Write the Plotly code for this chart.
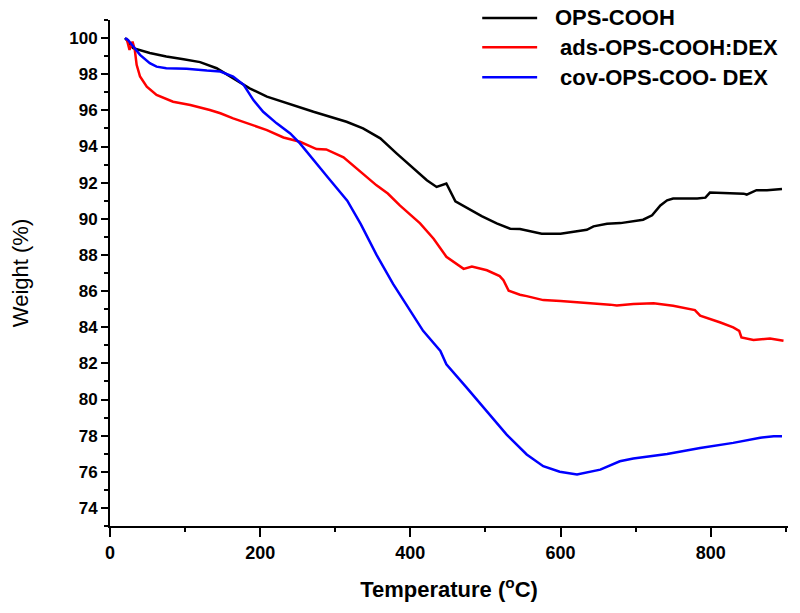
import plotly.graph_objects as go

# TGA curves, temperature (C) vs weight (%)
names = ["OPS-COOH", "ads-OPS-COOH:DEX", "cov-OPS-COO- DEX"]
colors = ["#000000", "#ff0000", "#0000ff"]

t_ops = [20, 31, 53, 75, 98, 120, 142, 164, 186, 209, 231, 250, 271, 293, 315, 337, 360, 382,
         404, 422, 435, 448, 460, 477, 495, 515, 533, 546, 575, 600, 617, 635, 644, 662, 680,
         697, 710, 722, 733, 742, 750, 782, 793, 799, 817, 844, 848, 861, 875, 895]
w_ops = [100, 99.44, 99.17, 98.98, 98.83, 98.67, 98.33, 97.78, 97.22, 96.76, 96.45, 96.18,
         95.92, 95.65, 95.37, 95.0, 94.45, 93.61, 92.78, 92.13, 91.76, 91.95, 90.97, 90.58,
         90.15, 89.75, 89.45, 89.43, 89.17, 89.17, 89.26, 89.39, 89.58, 89.73, 89.76, 89.86,
         89.95, 90.19, 90.74, 91.02, 91.12, 91.12, 91.17, 91.45, 91.43, 91.39, 91.34, 91.58,
         91.58, 91.65]

t_ads = [22, 26, 30, 33, 35.5, 40, 49, 62, 84, 107, 133, 147, 164, 191, 209, 231, 253, 275,
         288, 311, 333, 355, 370, 386, 413, 431, 448, 460, 471, 482, 502, 519, 524, 531, 546,
         555, 577, 600, 644, 666, 675, 697, 724, 750, 779, 786, 813, 830, 838, 841, 857, 879, 897]
w_ads = [100, 99.35, 99.8, 99.35, 98.52, 97.87, 97.31, 96.85, 96.48, 96.3, 96.02, 95.84,
         95.56, 95.19, 94.91, 94.5, 94.26, 93.86, 93.84, 93.4, 92.6, 91.85, 91.4, 90.74, 89.75,
         88.9, 87.9, 87.55, 87.23, 87.36, 87.15, 86.83, 86.6, 86.02, 85.8, 85.72, 85.5, 85.45,
         85.34, 85.25, 85.2, 85.29, 85.32, 85.19, 84.95, 84.64, 84.26, 83.99, 83.8, 83.43,
         83.29, 83.38, 83.25]

t_cov = [20, 24, 31, 40, 53, 62, 75, 102, 129, 147, 164, 178, 191, 204, 222, 240, 253, 266,
         290, 316, 334, 355, 377, 400, 417, 440, 448, 475, 502, 528, 555, 577, 599, 622, 653,
         679, 697, 742, 786, 830, 866, 884, 895]
w_cov = [100, 99.9, 99.53, 99.07, 98.61, 98.42, 98.33, 98.3, 98.2, 98.15, 97.87, 97.41,
         96.57, 95.92, 95.28, 94.72, 94.17, 93.5, 92.3, 91.0, 89.7, 88.0, 86.4, 84.9, 83.8,
         82.69, 81.95, 80.66, 79.36, 78.07, 76.96, 76.31, 76.0, 75.85, 76.12, 76.58, 76.73,
         76.99, 77.32, 77.6, 77.88, 77.97, 77.97]

y_ticks = list(range(74, 101, 2))
x_ticks = [0, 200, 400, 600, 800]

series = [(t_ops, w_ops), (t_ads, w_ads), (t_cov, w_cov)]

FONT = "Liberation Sans, Arial, sans-serif"

fig = go.Figure()
for (t, w), name, col in zip(series, names, colors):
    fig.add_trace(go.Scatter(x=t, y=w, mode="lines", name=name,
                             line=dict(color=col, width=2.5), showlegend=False))

# hand-made legend (longer line samples than plotly's own)
leg_y = [1.004, 0.946, 0.887]
leg_tx = [0.655, 0.662, 0.662]
for i, (name, col) in enumerate(zip(names, colors)):
    fig.add_shape(type="line", xref="paper", yref="paper", x0=0.549, x1=0.630,
                  y0=leg_y[i], y1=leg_y[i], line=dict(color=col, width=2.5))
    fig.add_annotation(xref="paper", yref="paper", x=leg_tx[i], y=leg_y[i] + 0.001,
                       text="<b>" + name + "</b>", showarrow=False, xanchor="left",
                       yanchor="middle", height=18, valign="middle", borderpad=0,
                       font=dict(family=FONT, size=22, color="black"))

axis_common = dict(showline=True, linecolor="black", linewidth=2, mirror=False,
                   showgrid=False, zeroline=False, ticks="outside", tickwidth=2,
                   tickcolor="black", automargin=False)

fig.update_xaxes(range=[0, 903], tickvals=x_ticks, ticklen=9,
                 tickfont=dict(family=FONT, size=18, color="black", weight="bold"),
                 minor=dict(dtick=100, tick0=0, ticks="outside", ticklen=4, tickwidth=2,
                            tickcolor="black"),
                 title=dict(text="<b>Temperature (<sup>o</sup>C)</b>", standoff=20,
                            font=dict(family=FONT, size=22, color="black")),
                 **axis_common)
fig.update_yaxes(range=[73, 101], tickvals=y_ticks, ticklen=7,
                 tickfont=dict(family=FONT, size=17, color="black", weight="bold"),
                 minor=dict(dtick=1, tick0=0, ticks="outside", ticklen=4, tickwidth=2,
                            tickcolor="black"),
                 title=dict(text="Weight (%)", standoff=37,
                            font=dict(family=FONT, size=22, color="black")),
                 **axis_common)

# the page body keeps an 8px margin, so the figure is a bit smaller than the window
fig.update_layout(width=792, height=605, plot_bgcolor="white", paper_bgcolor="white",
                  margin=dict(l=102, r=12, t=12, b=87))

fig.write_html("out.html")
